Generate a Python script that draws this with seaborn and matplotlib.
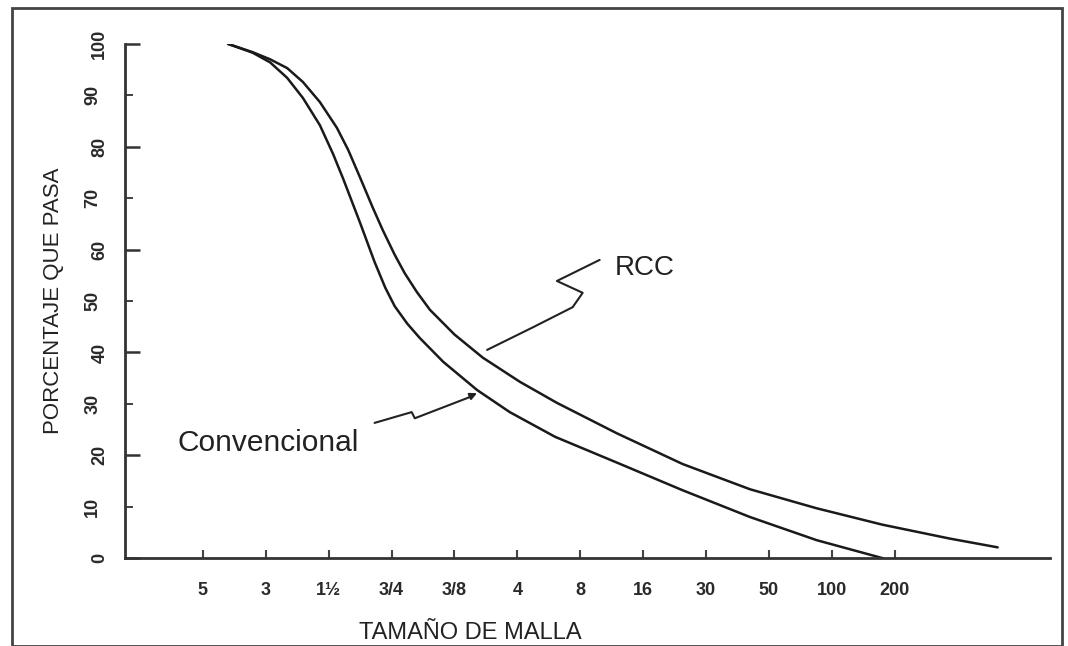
import pandas as pd
import seaborn as sns
import matplotlib.pyplot as plt
from matplotlib.patches import Rectangle

# sieve sizes (categorical positions 0..11 along the x axis)
sieves = ["5", "3", "1½", "3/4", "3/8", "4", "8", "16", "30", "50", "100", "200"]

# curves: x = position along the sieve scale, y = % passing
conv_x = [0.40, 0.79, 1.07, 1.34, 1.59, 1.86, 2.07, 2.23, 2.50, 2.73, 2.90, 3.05, 3.25,
          3.45, 3.82, 4.36, 4.88, 5.60, 6.58, 7.63, 8.70, 9.76, 10.81]
conv_y = [100.0, 98.3, 96.4, 93.4, 89.5, 84.2, 78.6, 73.8, 65.2, 57.6, 52.6, 49.0, 45.6,
          42.8, 38.2, 32.7, 28.4, 23.6, 18.6, 13.2, 8.0, 3.5, 0.0]
rcc_x = [0.40, 0.79, 1.07, 1.34, 1.59, 1.86, 2.13, 2.31, 2.50, 2.70, 2.86, 3.05, 3.21,
         3.40, 3.61, 4.00, 4.45, 5.04, 5.63, 6.58, 7.63, 8.70, 9.76, 10.81, 11.88, 12.64]
rcc_y = [100.0, 98.4, 97.0, 95.3, 92.6, 88.7, 83.7, 79.4, 74.0, 68.2, 63.8, 59.0, 55.4,
         51.8, 48.3, 43.5, 39.0, 34.3, 30.2, 24.3, 18.3, 13.4, 9.7, 6.5, 3.8, 2.1]

df = pd.concat([
    pd.DataFrame({"pos": conv_x, "pasa": conv_y, "tipo": "Convencional"}),
    pd.DataFrame({"pos": rcc_x, "pasa": rcc_y, "tipo": "RCC"}),
])

sns.set_style("white")
plt.rcParams['font.family'] = ['Liberation Sans', 'DejaVu Sans']

fig = plt.figure(figsize=(10.68, 6.46), dpi=100)
ax = fig.add_axes([0.117, 0.136, 0.866, 0.796])

sns.lineplot(data=df, x="pos", y="pasa", hue="tipo", palette=["#1a1a1a", "#1a1a1a"],
             sort=False, estimator=None, linewidth=1.8, legend=False, ax=ax)
for ln in ax.lines:
    ln.set_solid_joinstyle("round")

ax.set_xlim(-1.24, 13.47)
ax.set_ylim(0, 100)
sns.despine(ax=ax)
for s in ["left", "bottom"]:
    ax.spines[s].set_linewidth(2.0)
    ax.spines[s].set_color("#333333")

ax.set_xticks(range(len(sieves)))
ax.set_xticklabels(sieves, fontsize=13, fontweight="bold", color="#2a2a2a")
ax.tick_params(axis="x", bottom=True, direction="in", length=6, width=1.5, pad=17, color="#444444")

ax.set_yticks(range(0, 101, 20))
ax.set_yticks(range(10, 100, 20), minor=True)
ax.set_yticklabels([str(v) for v in range(0, 101, 20)], rotation=90, va="center",
                   fontsize=13, fontweight="bold", color="#2a2a2a")
ax.set_yticklabels([str(v) for v in range(10, 100, 20)], minor=True, rotation=90, va="center",
                   fontsize=13, fontweight="bold", color="#2a2a2a")
ax.tick_params(axis="y", which="major", left=True, direction="in", length=11, width=1.8, pad=12, color="#333333")
ax.tick_params(axis="y", which="minor", left=True, direction="in", length=6, width=1.3, pad=17, color="#333333")

ax.set_xlabel("TAMAÑO DE MALLA", fontsize=17, color="#222222")
ax.xaxis.set_label_coords(0.373, -0.125)
ax.set_ylabel("PORCENTAJE QUE PASA", fontsize=16, color="#222222")
ax.yaxis.set_label_coords(-0.066, 0.50)

# labels with zigzag leaders
ax.text(6.55, 56.4, "RCC", fontsize=20, va="center", ha="left", color="#222222")
ax.plot([6.31, 5.63, 6.04, 5.88, 5.25, 4.52], [58.0, 53.9, 51.6, 48.8, 44.9, 40.5],
        color="#222222", linewidth=1.5)
ax.text(-0.40, 22.4, "Convencional", fontsize=21.5, va="center", ha="left", color="#222222")
ax.annotate("", xy=(4.40, 32.3), xytext=(4.20, 31.2),
            arrowprops=dict(arrowstyle="-|>", color="#222222", lw=1.5, mutation_scale=10))
ax.plot([2.73, 3.32, 3.37, 4.24], [26.3, 28.4, 27.2, 31.3], color="#222222", linewidth=1.5)

# outer frame
fig.add_artist(Rectangle((0.011, 0.0), 0.983, 0.988, transform=fig.transFigure,
                         fill=False, edgecolor="#444444", linewidth=2))

fig.savefig("out.png", dpi=100)
